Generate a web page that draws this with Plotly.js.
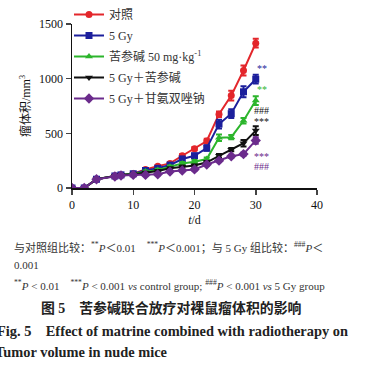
<!DOCTYPE html>
<html><head><meta charset="utf-8">
<script src="https://cdn.plot.ly/plotly-3.0.1.min.js"></script>
<style>html,body{margin:0;padding:0;background:#fff}#c{width:367px;height:367px}</style>
</head><body><div id="c"></div>
<script>
const days = [0,2,4,7,8,10,12,14,16,18,20,22,24,26,28,30];
const seriesNames = ["对照","5 Gy","苦参碱 50 mg·kg<sup>-1</sup>","5 Gy＋苦参碱","5 Gy＋甘氨双唑钠"];
const control   = [0,0,80,110,120,130,170,200,225,295,360,430,675,845,1075,1325];
const gy5       = [0,0,80,110,120,130,160,180,210,265,295,365,585,680,880,995];
const matrine   = [0,0,80,110,120,130,150,165,195,225,240,265,460,465,615,800];
const combo     = [0,0,80,110,120,125,140,155,180,195,205,235,295,350,410,525];
const comboGS   = [0,0,80,105,115,120,120,125,150,160,170,215,250,290,310,435];
const errControl = [0,0,5,8,8,8,10,10,12,15,15,20,25,45,45,40];
const errGy5     = [0,0,5,8,8,8,10,10,12,20,20,25,40,40,50,40];
const errMatrine = [0,0,5,8,8,8,10,10,10,12,15,15,30,20,25,40];
const errCombo   = [0,0,5,8,8,8,8,8,8,10,10,12,15,15,30,40];
const errComboGS = [0,0,5,8,8,8,8,8,8,8,10,12,12,15,15,30];
const colors = ["#e3262b","#1c1f9c","#2cb52c","#111111","#6b2b8c"];
const symbols = ["circle","square","triangle-up","triangle-down","diamond"];
const allY = [control,gy5,matrine,combo,comboGS];
const allE = [errControl,errGy5,errMatrine,errCombo,errComboGS];
const sigText = ["**","**","###","***","***","###"];
const sigY = [1090,900,710,610,290,200];
const sigColor = ["#1c1f9c","#2cb52c","#111111","#111111","#6b2b8c","#6b2b8c"];

const F = "Liberation Serif, Times New Roman, Noto Sans CJK SC, serif";
const traces = allY.map((y,i)=>({
  x: days, y: y, type:"scatter", mode:"lines+markers", name: seriesNames[i],
  legendgroup: "g"+i,
  line:{color:colors[i], width:2},
  marker:{color:colors[i], symbol:symbols[i], size: symbols[i]==="diamond"?8:7},
  error_y:{type:"data", array: allE[i], visible:true, color:colors[i], thickness:2, width:3}
}));
const L=72, T=24, W=245, H=164;
const px = x => (x-L)/W, py = y => (T+H-y)/H;
const annotations = sigText.map((s,i)=>({
  x:31, y:sigY[i], xref:"x", yref:"y", text:s, showarrow:false,
  font:{family:F, size:10, color:sigColor[i]}, xanchor:"center", yanchor:"middle"
}));
const cap = [
  {t:"与对照组比较：<sup>**</sup><i>P</i>＜0.01　<sup>***</sup><i>P</i>＜0.001；与 5 Gy 组比较：<sup>###</sup><i>P</i>＜", x:12, y:247, s:11, a:"left", c:"#333"},
  {t:"0.001", x:12, y:265, s:11, a:"left", c:"#333"},
  {t:"<sup>**</sup><i>P</i> < 0.01　<sup>***</sup><i>P</i> < 0.001 <i>vs</i> control group; <sup>###</sup><i>P</i> < 0.001 <i>vs</i> 5 Gy group", x:12, y:285, s:11, a:"left", c:"#333"},
  {t:"<b>图 5　苦参碱联合放疗对裸鼠瘤体积的影响</b>", x:171, y:308, s:13.9, a:"center", c:"#222"},
  {t:"<b>Fig. 5　Effect of matrine combined with radiotherapy on</b>", x:-5, y:331, s:14.4, a:"left", c:"#222"},
  {t:"<b>Tumor volume in nude mice</b>", x:-7, y:352, s:14.4, a:"left", c:"#222"}
];
cap.forEach(c=>annotations.push({x:px(c.x), y:py(c.y), xref:"paper", yref:"paper", text:c.t, showarrow:false,
  xanchor:c.a, yanchor:"middle", font:{family:F, size:c.s, color:c.c}}));

const layout = {
  width:367, height:367, margin:{l:L, r:367-L-W, t:T, b:367-T-H, autoexpand:false},
  paper_bgcolor:"#fff", plot_bgcolor:"#fff",
  font:{family:F, size:12, color:"#111"},
  showlegend:true,
  legend:{x:px(69), y:py(0), xanchor:"left", yanchor:"top", bgcolor:"rgba(0,0,0,0)",
    font:{family:F, size:12, color:"#333"}, tracegroupgap:2, itemwidth:30, traceorder:"grouped"},
  xaxis:{range:[0,40], tickvals:[0,10,20,30,40], ticks:"outside", ticklen:5, tickwidth:1.5,
    showline:true, linewidth:1.5, linecolor:"#111", showgrid:false, zeroline:false,
    tickfont:{family:F,size:12}, title:{text:"<i>t</i>/d", font:{family:F,size:12}, standoff:4}},
  yaxis:{range:[0,1500], tickvals:[0,500,1000,1500], ticks:"outside", ticklen:5, tickwidth:1.5,
    showline:true, linewidth:1.5, linecolor:"#111", showgrid:false, zeroline:false,
    tickfont:{family:F,size:12}, title:{text:"瘤体积/mm<sup>3</sup>", font:{family:F,size:12}, standoff:6}},
  annotations: annotations
};
Plotly.newPlot("c", traces, layout, {displayModeBar:false, staticPlot:true});
</script></body></html>
